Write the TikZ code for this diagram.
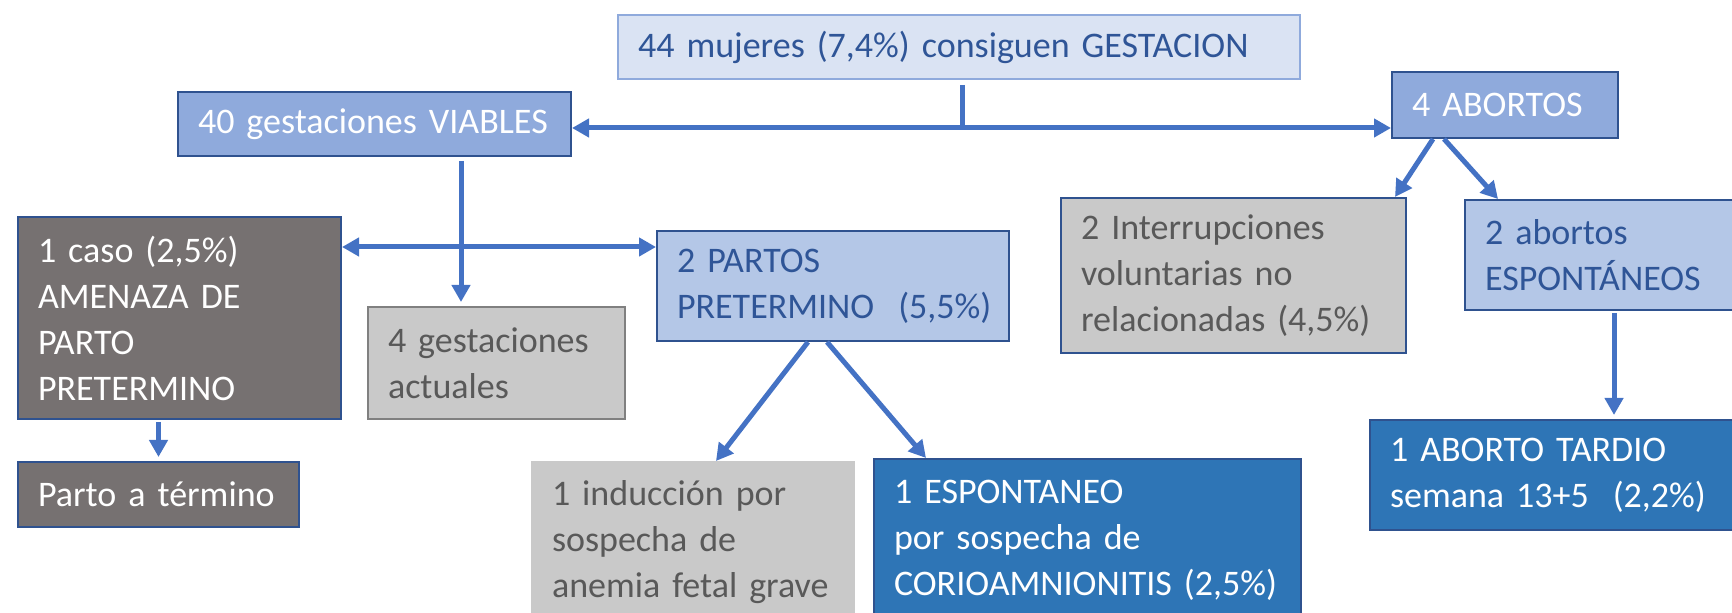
\documentclass[tikz,border=0pt]{standalone}
\usepackage{fontspec}
\setmainfont{Carlito}
\usetikzlibrary{arrows.meta,positioning}

\definecolor{arrowblue}{HTML}{4472C4}
\definecolor{edgeblue}{HTML}{2F528F}
\definecolor{paleblue}{HTML}{DAE3F3}
\definecolor{paleedge}{HTML}{8FAADC}
\definecolor{lightblue}{HTML}{B4C7E7}
\definecolor{midblue}{HTML}{8FAADC}
\definecolor{darkblue}{HTML}{2E75B6}
\definecolor{textblue}{HTML}{2F5597}
\definecolor{darkgray}{HTML}{767171}
\definecolor{lightgray}{HTML}{C9C9C9}
\definecolor{textgray}{HTML}{595959}

\begin{document}
\begin{tikzpicture}[x=0.5pt,y=-0.5pt,
    >={Triangle[width=9pt,length=8.5pt]},
    box/.style={draw=edgeblue,line width=1pt,inner xsep=10pt,inner ysep=0pt,
      align=left,anchor=north west,font=\fontsize{18}{23}\selectfont},
    pale/.style={box,fill=paleblue,draw=paleedge,text=textblue},
    mid/.style={box,fill=midblue,text=white},
    light/.style={box,fill=lightblue,text=textblue},
    deep/.style={box,fill=darkblue,text=white},
    dgray/.style={box,fill=darkgray,text=white},
    lgray/.style={box,fill=lightgray,text=textgray},
    arr/.style={->,draw=arrowblue,line width=2.5pt},
  ]
  \useasboundingbox (0,0) rectangle (1732,613);
  \clip (0,0) rectangle (1732,613);

  \node[pale,text width=321pt,minimum height=32pt] (m0) at (617,14) {44 mujeres (7,4\%) consiguen GESTACION};
  \node[mid,text width=176.5pt,minimum height=32pt] (v1) at (177,91) {40 gestaciones VIABLES};
  \node[mid,text width=93pt,minimum height=33pt] (a1) at (1391,71) {4 ABORTOS};
  \node[dgray,text width=141.5pt,minimum height=101pt] (c1) at (17,216) {1 caso (2,5\%)\\AMENAZA DE\\PARTO\\PRETERMINO};
  \node[lgray,draw=gray,text width=108.5pt,minimum height=56pt] (v2) at (367,306) {4 gestaciones\\actuales};
  \node[light,text width=156pt,minimum height=55pt] (p1) at (656,230) {2 PARTOS\\PRETERMINO~~(5,5\%)};
  \node[dgray,text width=120.5pt,minimum height=32.5pt] (t1) at (17,461) {Parto a término};
  \node[lgray,draw=lightgray,text width=141pt,minimum height=80pt] (p2) at (531,461) {1 inducción por\\sospecha de\\anemia fetal grave};
  \node[deep,text width=193.5pt,minimum height=81pt] (p3) at (873,458) {1 ESPONTANEO\\por sospecha de\\CORIOAMNIONITIS (2,5\%)};
  \node[lgray,text width=152.5pt,minimum height=77.5pt] (a2) at (1060,197) {2 Interrupciones\\voluntarias no\\relacionadas (4,5\%)};
  \node[light,text width=129pt,minimum height=55pt] (a3) at (1464,199) {2 abortos\\ESPONTÁNEOS};
  \node[deep,text width=190pt,minimum height=55pt] (a4) at (1369,419) {1 ABORTO TARDIO\\semana 13+5~~(2,2\%)};

  \coordinate (j1) at (962,128);
  \coordinate (j2) at (461,247);

  \draw[arr,-] ([yshift=-2.5pt]m0.south -| j1) -- (j1);
  \draw[arr] (j1) -- (j1 -| v1.east);
  \draw[arr] (j1) -- (j1 -| a1.west);
  \draw[arr] ([yshift=-2pt]v1.south -| j2) -- ([yshift=2pt]v2.north -| j2);
  \draw[arr,<->] (j2 -| c1.east) -- (j2 -| p1.west);
  \draw[arr] ([yshift=-1pt]c1.south -| t1.north) -- ([yshift=2pt]t1.north);
  \draw[arr] ([xshift=-12.5pt]p1.south) -- ([xshift=11.5pt]p2.north);
  \draw[arr] ([xshift=-3pt]p1.south) -- ([xshift=26.5pt]p3.north west);
  \draw[arr] ([xshift=21pt]a1.south west) -- ([xshift=-6pt]a2.north east);
  \draw[arr] ([xshift=26.5pt]a1.south west) -- ([xshift=17pt]a3.north west);
  \draw[arr] ([yshift=-1pt]a3.south) -- ([yshift=2pt]a3.south |- a4.north);
\end{tikzpicture}
\end{document}
